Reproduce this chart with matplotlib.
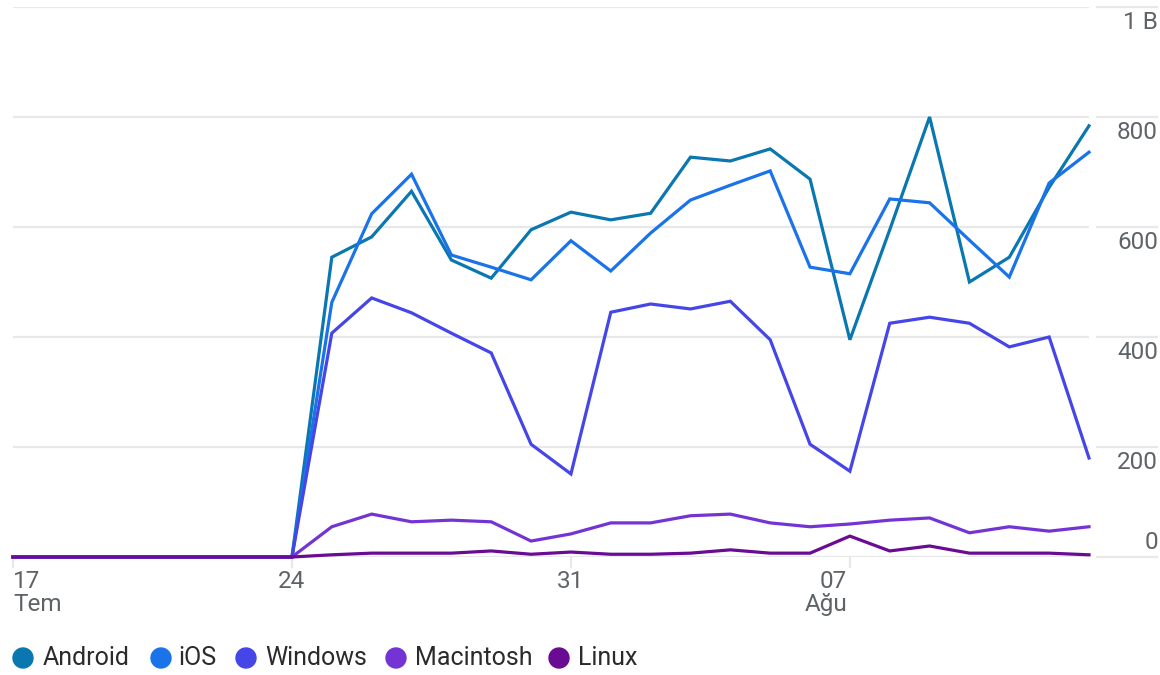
import matplotlib
matplotlib.use("Agg")
import matplotlib.pyplot as plt
from matplotlib.lines import Line2D
from matplotlib.patches import Ellipse
import numpy as np

plt.rcParams['font.family'] = ['Roboto', 'DejaVu Sans']

days = list(range(28))  # Jul 17 .. Aug 13
android = [0, 0, 0, 0, 0, 0, 0, 0, 545, 582, 665, 540, 507, 595, 627, 613, 625, 727,
           720, 742, 687, 395, 595, 800, 500, 545, 672, 784]
ios = [0, 0, 0, 0, 0, 0, 0, 0, 463, 624, 696, 549, 527, 504, 575, 520, 589, 649,
       676, 702, 527, 515, 651, 644, 576, 509, 680, 736]
windows = [0, 0, 0, 0, 0, 0, 0, 0, 407, 471, 444, 407, 371, 205, 151, 445, 460, 451,
           465, 395, 205, 156, 425, 436, 425, 382, 400, 180]
mac = [0, 0, 0, 0, 0, 0, 0, 0, 55, 78, 64, 67, 64, 29, 42, 62, 62, 75,
       78, 62, 55, 60, 67, 71, 44, 55, 47, 55]
linux = [0, 0, 0, 0, 0, 0, 0, 0, 4, 7, 7, 7, 11, 5, 9, 5, 5, 7,
         13, 7, 7, 38, 11, 20, 7, 7, 7, 4]

series_names = ["Android", "iOS", "Windows", "Macintosh", "Linux"]
series_values = [android, ios, windows, mac, linux]
colors = ["#0b77b0", "#1a73e8", "#4646e8", "#7434d4", "#6a0b94"]

yticks = [0, 200, 400, 600, 800, 1000]
ytick_labels = ["0", "200", "400", "600", "800", "1 B"]
xtick_pos = [0, 7, 14, 21]
xtick_labels = ["17\nTem", "24", "31", "07\nAğu"]

W, H = 1160, 675
fig = plt.figure(figsize=(W / 100, H / 100), dpi=100)
x0, x1 = 13, 1089
y_top, y_bot = 7, 557
ax = fig.add_axes([x0 / W, 1 - y_bot / H, (x1 - x0) / W, (y_bot - y_top) / H])
ax.set_xlim(0, 27)
ax.set_ylim(0, 1000)
for s in ax.spines.values():
    s.set_visible(False)
ax.set_xticks([])
ax.set_yticks([])
ax.patch.set_alpha(0)

grid_color = "#e8e8e8"
tick_fs = 17.5
for yt in yticks:
    ax.axhline(yt, color=grid_color, lw=1.6, zorder=1)
    yf = 1 - (y_bot - (y_bot - y_top) * yt / 1000) / H
    fig.add_artist(Line2D([1097 / W, 1157 / W], [yf, yf], color=grid_color, lw=1.6,
                          transform=fig.transFigure))

# y labels at right
for yt, lab in zip(yticks, ytick_labels):
    off = 10.5 if yt == 0 else -11
    ax.annotate(lab, xy=(1158 / W, 1 - (y_bot - (y_bot - y_top) * yt / 1000) / H),
                xycoords='figure fraction', xytext=(0, off), textcoords='offset points',
                ha='right', va='center', fontsize=tick_fs, color='#5f6368')

# x ticks
for p, lab in zip(xtick_pos, xtick_labels):
    ax.plot([p, p], [0, -18], color=grid_color, lw=1.6, clip_on=False, zorder=1)
    if p == 0:
        ha, dx = 'left', 0
    elif p == 21:
        ha, dx = 'right', -2
    else:
        ha, dx = 'center', 0
    ax.annotate(lab, xy=(p, 0), xycoords='data', xytext=(dx, -9), textcoords='offset points',
                ha=ha, va='top', fontsize=tick_fs, color='#5f6368', linespacing=1.05,
                multialignment=ha if ha != 'center' else 'center')

for name, vals, c in zip(series_names, series_values, colors):
    ax.plot(days, vals, color=c, lw=2.3, clip_on=False, zorder=3,
            solid_joinstyle='miter')

# legend
legend_items = [(23, 43), (161, 178), (246, 265), (396, 415), (559, 578)]
ly = 658
for (cx, tx), name, c in zip(legend_items, series_names, colors):
    fig.add_artist(Ellipse((cx / W, 1 - ly / H), 20 / W, 20 / H, color=c,
                           transform=fig.transFigure))
    fig.text(tx / W, 1 - ly / H, name, ha='left', va='center', fontsize=18, color='#2b2b2b')

fig.savefig("out.png", dpi=100)
